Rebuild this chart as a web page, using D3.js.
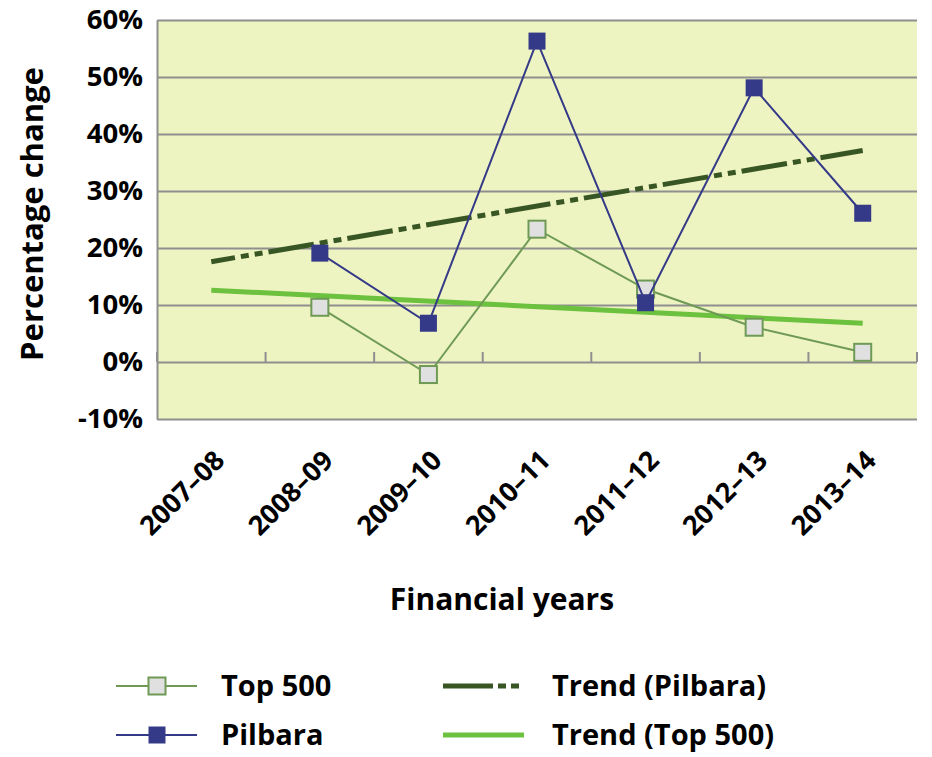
<!DOCTYPE html>
<html>
<head>
<meta charset="utf-8">
<script src="https://cdn.jsdelivr.net/npm/d3@7"></script>
<style>
  body { margin: 0; background: #fff; }
  text { font-family: "Open Sans", sans-serif; font-weight: 700; fill: #000; }
</style>
</head>
<body>
<div id="chart"></div>
<script>
// data
var years = ["2007–08", "2008–09", "2009–10", "2010–11", "2011–12", "2012–13", "2013–14"];
var pilbaraYears = ["2008–09", "2009–10", "2010–11", "2011–12", "2012–13", "2013–14"];
var pilbara = [19.1, 6.8, 56.3, 10.4, 48.1, 26.1];
var top500 = [9.6, -2.2, 23.3, 12.8, 6.1, 1.7];
var trendYears = ["2007–08", "2013–14"];
var trendPilbara = [17.6, 37.1];
var trendTop500 = [12.6, 6.8];
var yTicks = [-10, 0, 10, 20, 30, 40, 50, 60];

var width = 932, height = 757,
    margin = { left: 157, right: 15, top: 20, bottom: 338 };
var chartW = width - margin.left - margin.right,
    chartH = height - margin.top - margin.bottom;

var colors = {
    bg: '#EDF3C1',
    grid: '#8f8f8f',
    pilbara: '#343A87',
    top500: '#6E9A56',
    top500Fill: '#E0E0E0',
    trendPilbara: '#375623',
    trendTop500: '#6CC13E'
};

var svg = d3.select('#chart').append('svg')
    .attr('width', width)
    .attr('height', height);

var xScale = d3.scaleBand().domain(years).range([0, chartW]);
var yScale = d3.scaleLinear().domain([-10, 60]).range([chartH, 0]);
var cx = (d) => xScale(d) + xScale.bandwidth() / 2;

var g = svg.append('g')
    .attr('transform', 'translate(' + margin.left + ',' + margin.top + ')');

g.append('rect')
    .attr('width', chartW)
    .attr('height', chartH)
    .attr('fill', colors.bg);

// y axis + horizontal gridlines
var yAxis = d3.axisLeft(yScale)
    .tickValues(yTicks)
    .tickFormat((d) => d + '%')
    .tickSizeInner(-chartW)
    .tickSizeOuter(0)
    .tickPadding(14);

var yG = g.append('g').attr('class', 'axis y').call(yAxis);
yG.select('.domain').attr('stroke', colors.grid).attr('stroke-width', 2);
yG.selectAll('.tick line').attr('stroke', colors.grid).attr('stroke-width', 2);
yG.selectAll('.tick text')
    .style('font-size', '27.5px')
    .attr('fill', '#000');

// category ticks standing on the 0% line
var bounds = years.map((d) => xScale(d)).concat([chartW]);
g.selectAll('.xtick').data(bounds).enter().append('line')
    .attr('class', 'xtick')
    .attr('x1', (d) => d).attr('x2', (d) => d)
    .attr('y1', yScale(0)).attr('y2', yScale(0) - 10)
    .attr('stroke', colors.grid)
    .attr('stroke-width', 2);

// x labels
var xAxis = d3.axisBottom(xScale).tickSize(0);
var xG = g.append('g').attr('class', 'axis x')
    .attr('transform', 'translate(0,' + chartH + ')')
    .call(xAxis);
xG.select('.domain').remove();
xG.selectAll('.tick text')
    .attr('x', 0).attr('y', 0).attr('dy', 0)
    .attr('transform', 'translate(15,43) rotate(-45)')
    .style('text-anchor', 'end')
    .style('font-size', '27px');

// axis titles
svg.append('text')
    .attr('transform', 'translate(43,' + (margin.top + 194) + ') rotate(-90)')
    .attr('text-anchor', 'middle')
    .style('font-size', '31px')
    .text('Percentage change');

svg.append('text')
    .attr('x', 502)
    .attr('y', 610)
    .attr('text-anchor', 'middle')
    .style('font-size', '30px')
    .text('Financial years');

// trend lines
var trendLine = d3.line().x((d) => cx(d[0])).y((d) => yScale(d[1]));

g.append('path')
    .datum(d3.zip(trendYears, trendTop500))
    .attr('d', trendLine)
    .attr('fill', 'none')
    .attr('stroke', colors.trendTop500)
    .attr('stroke-width', 5);

g.append('path')
    .datum(d3.zip(trendYears, trendPilbara))
    .attr('d', trendLine)
    .attr('fill', 'none')
    .attr('stroke', colors.trendPilbara)
    .attr('stroke-width', 5)
    .attr('stroke-dasharray', '46,6,8,6,8,6')
    .attr('stroke-dashoffset', 22);

// series
var seriesLine = d3.line().x((d) => cx(d[0])).y((d) => yScale(d[1]));
var ms = 17;

g.append('path')
    .datum(d3.zip(pilbaraYears, top500))
    .attr('d', seriesLine)
    .attr('fill', 'none')
    .attr('stroke', colors.top500)
    .attr('stroke-width', 2);

g.selectAll('.m500').data(d3.zip(pilbaraYears, top500)).enter().append('rect')
    .attr('class', 'm500')
    .attr('x', (d) => cx(d[0]) - ms / 2)
    .attr('y', (d) => yScale(d[1]) - ms / 2)
    .attr('width', ms).attr('height', ms)
    .attr('fill', colors.top500Fill)
    .attr('stroke', colors.top500)
    .attr('stroke-width', 2);

g.append('path')
    .datum(d3.zip(pilbaraYears, pilbara))
    .attr('d', seriesLine)
    .attr('fill', 'none')
    .attr('stroke', colors.pilbara)
    .attr('stroke-width', 2);

g.selectAll('.mpil').data(d3.zip(pilbaraYears, pilbara)).enter().append('rect')
    .attr('class', 'mpil')
    .attr('x', (d) => cx(d[0]) - ms / 2)
    .attr('y', (d) => yScale(d[1]) - ms / 2)
    .attr('width', ms).attr('height', ms)
    .attr('fill', colors.pilbara);

// legend
var legend = svg.append('g').attr('class', 'legend');
var items = [
    { name: 'Top 500', col: 0, row: 0, type: 'marker', stroke: colors.top500, fill: colors.top500Fill },
    { name: 'Pilbara', col: 0, row: 1, type: 'marker', stroke: colors.pilbara, fill: colors.pilbara },
    { name: 'Trend (Pilbara)', col: 1, row: 0, type: 'line', stroke: colors.trendPilbara, sw: 5, dash: '50,5,8,5,8,5' },
    { name: 'Trend (Top 500)', col: 1, row: 1, type: 'line', stroke: colors.trendTop500, sw: 5 }
];
var colX = [116, 443], textX = [221, 552], rowY = [686, 735];

items.forEach(function(it) {
    var x0 = colX[it.col], y0 = rowY[it.row];
    legend.append('line')
        .attr('x1', x0).attr('x2', x0 + 81)
        .attr('y1', y0).attr('y2', y0)
        .attr('stroke', it.stroke)
        .attr('stroke-width', it.sw || 2)
        .attr('stroke-dasharray', it.dash || null);
    if (it.type === 'marker') {
        legend.append('rect')
            .attr('x', x0 + 41 - ms / 2).attr('y', y0 - ms / 2)
            .attr('width', ms).attr('height', ms)
            .attr('fill', it.fill)
            .attr('stroke', it.name === 'Pilbara' ? null : it.stroke)
            .attr('stroke-width', 2);
    }
    legend.append('text')
        .attr('x', textX[it.col])
        .attr('y', y0 + 10)
        .style('font-size', '29px')
        .text(it.name);
});
</script>
</body>
</html>
